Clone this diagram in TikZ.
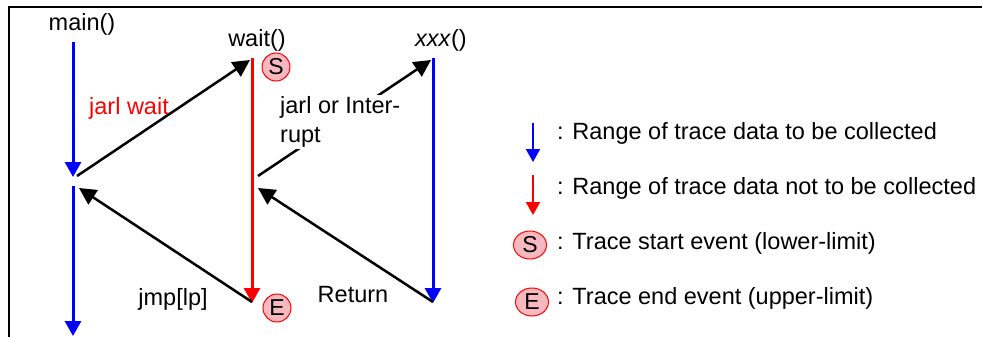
\documentclass[tikz,border=0pt]{standalone}
\usepackage{fontspec}
\setmainfont{Liberation Sans}
\usetikzlibrary{arrows.meta,shapes.geometric}
\definecolor{evpink}{RGB}{248,184,192}
\definecolor{trblue}{RGB}{0,0,255}
\definecolor{trred}{RGB}{255,0,0}
\begin{document}
\begin{tikzpicture}[x=1pt,y=-1pt,
  lbl/.style={font=\fontsize{23.5}{28}\selectfont, inner sep=0pt},
  coll/.style={draw=trblue, line width=3pt, -{Triangle[length=15pt,width=16pt]}},
  nocoll/.style={draw=trred, line width=3pt, -{Triangle[length=15pt,width=16pt]}},
  flow/.style={draw=black, line width=2.5pt, -{Triangle[length=17pt,width=17pt]}},
  ev/.style={circle, draw=trred, fill=evpink, minimum size=28pt, inner sep=0pt, line width=1pt, font=\fontsize{23}{24}\selectfont},
  evleg/.style={ellipse, draw=trred, fill=evpink, minimum width=33pt, minimum height=28pt, inner sep=0pt, line width=1pt, font=\fontsize{23}{24}\selectfont}]
\useasboundingbox (0,0) rectangle (982,337);
% frame
\draw[line width=2pt] (9,337) -- (9,7) -- (982,7);
% titles
\node[lbl] (main) at (82,24) {main()};
\node[lbl] (wait) at (257,40) {wait()};
\node[lbl] (xxx) at (441,40) {\textit{xxx}()};
% coordinates
\coordinate (m1a) at (73,42);
\coordinate (m1b) at (73,177);
\coordinate (m2a) at (73,186);
\coordinate (m2b) at (73,336);
\coordinate (wa) at (252,58);
\coordinate (wb) at (252,303);
\coordinate (xa) at (433,58);
\coordinate (xb) at (433,303);
\coordinate (mout) at (77,176);
\coordinate (min) at (79,188);
\coordinate (wtip) at (250,60);
\coordinate (wend) at (252,302);
\coordinate (wout) at (258,176);
\coordinate (win) at (258,188);
\coordinate (xtip) at (431,60);
\coordinate (xend) at (433,302);
% vertical ranges
\draw[coll] (m1a) -- (m1b);
\draw[coll] (m2a) -- (m2b);
\draw[nocoll] (wa) -- (wb);
\draw[coll] (xa) -- (xb);
% flow arrows
\draw[flow] (mout) -- (wtip);
\draw[flow] (wend) -- (min);
\draw[flow] (xend) -- (win);
\draw[flow] (wout) -- (xtip);
% labels
\node[lbl, text=trred] (jw) at (129,108) {jarl wait};
\node[lbl, fill=white, align=left, anchor=west, font=\fontsize{23.5}{29}\selectfont, inner ysep=2pt, inner xsep=1pt] (ji) at (279,122) {jarl or Inter-\\rupt};
\node[lbl] (jmp) at (173,299) {jmp[lp]};
\node[lbl] (ret) at (353,295) {Return};
% events
\node[ev] (s) at (276,67) {S};
\node[ev] (e) at (277,308) {E};
% legend
\coordinate (l1a) at (533,123);
\coordinate (l1b) at (533,162);
\coordinate (l2a) at (533,175);
\coordinate (l2b) at (533,215);
\draw[coll, line width=2pt, -{Triangle[length=13pt,width=14pt]}] (l1a) -- (l1b);
\draw[nocoll, line width=2pt, -{Triangle[length=13pt,width=14pt]}] (l2a) -- (l2b);
\node[evleg] (ls) at (530,245) {S};
\node[evleg] (le) at (532,302) {E};
\node[lbl, anchor=west] (t1) at (557,133) {: Range of trace data to be collected};
\node[lbl, anchor=west] (t2) at (557,188) {: Range of trace data not to be collected};
\node[lbl, anchor=west] (t3) at (557,243) {: Trace start event (lower-limit)};
\node[lbl, anchor=west] (t4) at (557,298) {: Trace end event (upper-limit)};
\end{tikzpicture}
\end{document}
